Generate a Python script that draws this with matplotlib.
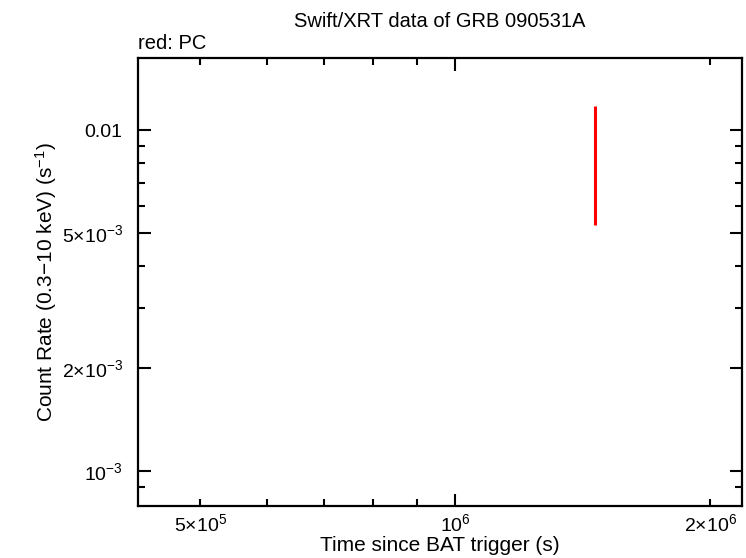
import matplotlib
matplotlib.use("Agg")
from matplotlib import pyplot as plt
from matplotlib.ticker import FixedLocator, FixedFormatter, NullFormatter

plt.rcParams['font.family'] = ['Liberation Sans', 'DejaVu Sans']
plt.rcParams['mathtext.fontset'] = 'custom'
plt.rcParams['mathtext.rm'] = 'Liberation Sans'
plt.rcParams['mathtext.it'] = 'Liberation Sans:italic'
plt.rcParams['mathtext.bf'] = 'Liberation Sans:bold'

# PC data (one bin)
pc_time = [1.463e6]
pc_rate = [8.5e-3]
pc_err_lo = [3.23e-3]
pc_err_hi = [3.26e-3]

x_major = [1e6]
x_minor = [5e5, 6e5, 7e5, 8e5, 9e5, 2e6]
x_minor_labels = [r'$5{\times}10^{5}$', '', '', '', '', r'$2{\times}10^{6}$']
y_major = [1e-3, 2e-3, 5e-3, 1e-2]
y_major_labels = [r'$10^{-3}$', r'$2{\times}10^{-3}$', r'$5{\times}10^{-3}$', '0.01']
y_minor = [9e-4, 3e-3, 4e-3, 6e-3, 7e-3, 8e-3, 9e-3]

fig = plt.figure(figsize=(7.46, 5.58), dpi=100)
ax = fig.add_axes([0.185, 0.093, 0.8096, 0.803])

ax.errorbar(pc_time, pc_rate, yerr=[pc_err_lo, pc_err_hi], fmt='none',
            ecolor='red', elinewidth=2.2, capsize=0)

ax.set_xscale('log')
ax.set_yscale('log')
ax.set_xlim(4.22e5, 2.18e6)
ax.set_ylim(7.89e-4, 1.626e-2)

ax.xaxis.set_major_locator(FixedLocator(x_major))
ax.xaxis.set_major_formatter(FixedFormatter([r'$10^{6}$']))
ax.xaxis.set_minor_locator(FixedLocator(x_minor))
ax.xaxis.set_minor_formatter(FixedFormatter(x_minor_labels))
ax.yaxis.set_major_locator(FixedLocator(y_major))
ax.yaxis.set_major_formatter(FixedFormatter(y_major_labels))
ax.yaxis.set_minor_locator(FixedLocator(y_minor))
ax.yaxis.set_minor_formatter(NullFormatter())

ax.tick_params(which='both', direction='in', top=True, right=True,
               width=1.5, labelsize=14)
ax.tick_params(axis='x', which='both', pad=5)
ax.tick_params(axis='y', which='both', pad=11)
ax.tick_params(which='major', length=9)
ax.tick_params(which='minor', length=5)
for s in ax.spines.values():
    s.set_linewidth(1.6)

ax.set_xlabel('Time since BAT trigger (s)', fontsize=15)
ax.xaxis.set_label_coords(0.5, -0.066)
ax.set_ylabel(r'Count Rate (0.3$-$10 keV) (s$^{-1}$)', fontsize=15)
ax.yaxis.set_label_coords(-0.13, 0.5)
ax.set_title('Swift/XRT data of GRB 090531A', fontsize=14.5, pad=22)
ax.text(0.0, 1.012, 'red: PC', transform=ax.transAxes, fontsize=14.5,
        ha='left', va='bottom')

fig.savefig('out.png', dpi=100)
